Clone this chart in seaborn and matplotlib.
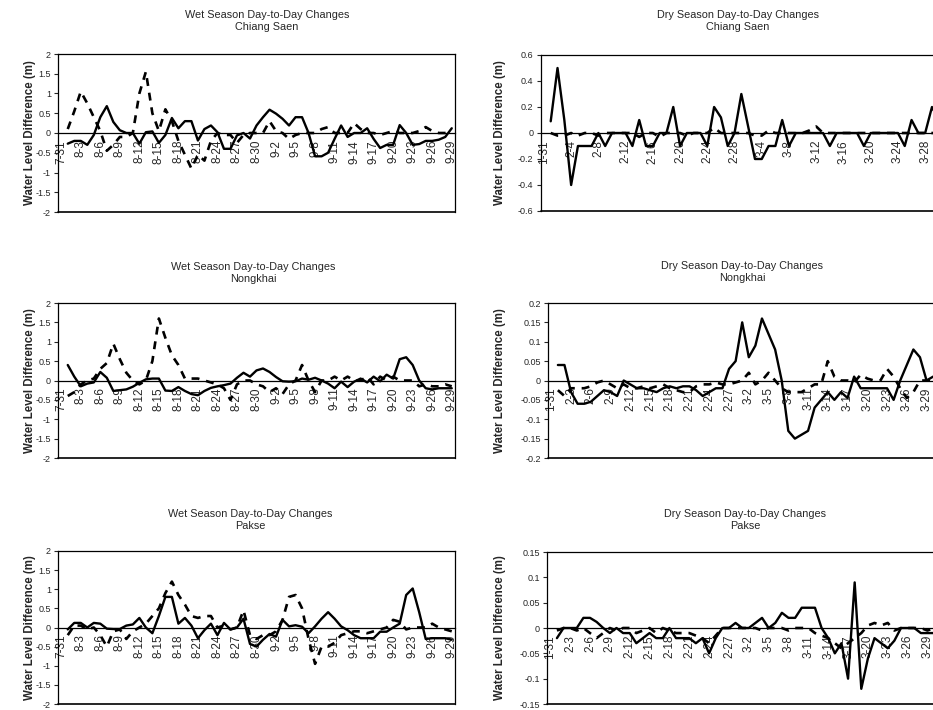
import numpy as np
import pandas as pd
import matplotlib
matplotlib.use("Agg")
import matplotlib.pyplot as plt
from matplotlib.ticker import FuncFormatter
import seaborn as sns

sns.set_style("white")
plt.rcParams["font.family"] = ["Liberation Sans", "DejaVu Sans"]
plt.rcParams["axes.unicode_minus"] = False

nan = np.nan

# Daily categories; the first day has no previous-day difference
wet_days = pd.date_range("2003-07-31", "2003-09-29", freq="D")
dry_days = pd.date_range("2003-01-31", "2003-03-31", freq="D")
wet_labels = [f"{d.month}-{d.day}" for d in wet_days]
dry_labels = [f"{d.month}-{d.day}" for d in dry_days]

# ---- Chiang Saen -------------------------------------------------------
cs_wet_solid = [nan, -0.27, -0.2, -0.2, -0.3, -0.05, 0.4, 0.68, 0.28, 0.07, 0.0,
                0.0, -0.27, 0.02, 0.04, -0.25, -0.05, 0.38, 0.12, 0.3, 0.3,
                -0.19, 0.1, 0.19, 0.02, -0.4, -0.4, -0.06, 0.0, -0.14, 0.19,
                0.4, 0.59, 0.49, 0.36, 0.19, 0.4, 0.4, 0.0, -0.59, -0.59,
                -0.5, -0.15, 0.19, -0.1, 0.0, 0.0, 0.12, -0.15, -0.38, -0.3,
                -0.3, 0.2, 0.0, -0.3, -0.28, -0.2, -0.2, -0.17, -0.1, 0.12]
cs_wet_dashed = [nan, 0.1, 0.55, 1.05, 0.75, 0.4, 0.05, -0.45, -0.3, -0.1, -0.1,
                 0.0, 1.0, 1.55, 0.5, 0.05, 0.6, 0.3, -0.2, -0.55, -0.9,
                 -0.55, -0.7, -0.2, 0.0, -0.05, -0.05, -0.25, -0.05, 0.0, 0.0,
                 0.0, 0.3, 0.05, 0.0, -0.15, -0.05, 0.0, 0.0, 0.0, 0.1,
                 0.15, 0.0, 0.0, 0.0, 0.25, 0.1, 0.0, 0.0, -0.05, 0.0,
                 0.05, 0.0, 0.0, 0.0, 0.05, 0.15, 0.05, 0.0, 0.0, 0.0]
cs_dry_solid = [nan, 0.09, 0.5, 0.1, -0.4, -0.1, -0.1, -0.1, 0.0, -0.1,
                0.0, 0.0, 0.0, -0.1, 0.1, -0.1, -0.1, 0.0, 0.0, 0.2,
                -0.1, 0.0, 0.0, 0.0, -0.1, 0.2, 0.12, -0.1, 0.0, 0.3,
                0.05, -0.2, -0.2, -0.1, -0.1, 0.1, -0.1, 0.0, 0.0, 0.0,
                0.0, 0.0, -0.1, 0.0, 0.0, 0.0, 0.0, -0.1, 0.0, 0.0,
                0.0, 0.0, 0.0, -0.1, 0.1, 0.0, 0.0, 0.2, 0.1, 0.0]
cs_dry_dashed = [nan, 0.0, -0.02, -0.02, 0.0, -0.02, 0.0, 0.0, -0.02, 0.0,
                 0.0, 0.0, 0.0, 0.0, -0.03, 0.0, 0.0, -0.03, 0.0, 0.0,
                 0.0, -0.02, 0.0, 0.0, 0.0, 0.04, 0.0, 0.0, 0.0, 0.0,
                 0.0, -0.02, -0.02, 0.02, 0.0, 0.0, 0.0, 0.0, 0.0, 0.02,
                 0.05, 0.0, 0.0, 0.0, 0.0, 0.0, 0.0, 0.0, 0.0, 0.0,
                 0.0, 0.0, 0.0, 0.0, 0.0, 0.0, 0.0, 0.0, 0.0, 0.0]

# ---- Nongkhai ----------------------------------------------------------
nk_wet_solid = [nan, 0.4, 0.1, -0.15, -0.08, -0.05, 0.22, 0.07, -0.27, -0.25, -0.23,
                -0.16, -0.06, 0.03, 0.05, 0.05, -0.26, -0.27, -0.17, -0.27, -0.35,
                -0.38, -0.27, -0.19, -0.15, -0.12, -0.08, 0.07, 0.2, 0.1, 0.26,
                0.31, 0.22, 0.09, -0.02, -0.03, -0.02, 0.05, 0.02, 0.07, 0.0,
                -0.08, -0.2, -0.03, -0.17, -0.03, 0.05, -0.05, 0.1, -0.02, 0.15,
                0.05, 0.55, 0.6, 0.4, 0.0, -0.2, -0.23, -0.2, -0.2, -0.2]
nk_wet_dashed = [nan, -0.4, -0.3, -0.1, 0.0, 0.05, 0.3, 0.45, 0.95, 0.55, 0.2,
                 0.0, -0.1, 0.0, 0.5, 1.6, 1.1, 0.65, 0.4, 0.05, 0.05,
                 0.05, 0.0, -0.05, -0.1, -0.2, -0.5, -0.1, 0.0, 0.0, -0.1,
                 -0.15, -0.3, -0.2, -0.35, -0.1, 0.0, 0.4, 0.0, -0.3, 0.0,
                 0.0, 0.1, 0.0, 0.1, 0.0, 0.0, 0.1, -0.1, 0.1, 0.0,
                 0.1, 0.0, 0.0, 0.0, -0.15, -0.1, -0.15, -0.15, -0.1, -0.15]
nk_dry_solid = [nan, 0.04, 0.04, -0.03, -0.06, -0.06, -0.055, -0.04, -0.025, -0.03,
                -0.04, 0.0, -0.01, -0.02, -0.02, -0.025, -0.03, -0.02, -0.015, -0.02,
                -0.015, -0.015, -0.025, -0.04, -0.03, -0.02, -0.02, 0.03, 0.05, 0.15,
                0.06, 0.09, 0.16, 0.12, 0.08, 0.0, -0.13, -0.15, -0.14, -0.13,
                -0.07, -0.05, -0.03, -0.05, -0.03, -0.045, 0.01, -0.02, -0.02, -0.02,
                -0.02, -0.02, -0.05, 0.0, 0.04, 0.08, 0.06, 0.0, 0.01, 0.0]
nk_dry_dashed = [nan, -0.025, -0.04, -0.02, -0.02, -0.02, -0.015, -0.005, 0.0, -0.01,
                 -0.02, -0.01, -0.02, -0.02, -0.015, -0.02, -0.015, -0.01, -0.02, -0.025,
                 -0.03, -0.03, -0.015, -0.01, -0.01, -0.005, -0.01, -0.01, -0.005, 0.0,
                 0.02, -0.01, 0.0, 0.02, 0.0, -0.02, -0.03, -0.03, -0.03, -0.02,
                 -0.01, -0.01, 0.05, 0.01, 0.0, 0.0, -0.005, 0.015, 0.005, 0.0,
                 0.0, 0.03, 0.01, -0.02, -0.045, -0.03, 0.0, 0.0, 0.0, 0.0]

# ---- Pakse -------------------------------------------------------------
pk_wet_solid = [nan, -0.05, 0.12, 0.12, 0.0, 0.12, 0.1, -0.03, -0.04, -0.04, 0.05,
                0.08, 0.25, 0.0, -0.15, 0.3, 0.8, 0.8, 0.1, 0.25, 0.05,
                -0.28, -0.07, 0.1, -0.2, 0.12, -0.05, 0.0, 0.23, -0.43, -0.5,
                -0.32, -0.17, -0.24, 0.2, 0.03, 0.06, 0.02, -0.15, 0.03, 0.23,
                0.4, 0.23, 0.03, -0.07, -0.2, -0.28, -0.28, -0.28, -0.11, -0.11,
                0.0, 0.1, 0.85, 1.02, 0.4, -0.3, -0.28, -0.28, -0.28, -0.32]
pk_wet_dashed = [nan, -0.2, 0.05, 0.05, -0.05, 0.0, -0.2, -0.5, -0.1, -0.05, -0.3,
                 -0.1, 0.0, 0.1, 0.3, 0.5, 0.9, 1.2, 0.85, 0.6, 0.3,
                 0.25, 0.3, 0.3, 0.0, 0.05, -0.05, 0.0, 0.45, -0.2, -0.3,
                 -0.2, -0.2, -0.1, 0.2, 0.8, 0.85, 0.5, -0.3, -0.95, -0.5,
                 -0.5, -0.4, -0.2, -0.15, -0.1, -0.1, -0.15, -0.1, -0.05, 0.0,
                 0.2, 0.15, -0.05, 0.0, 0.0, 0.0, 0.1, 0.0, -0.05, -0.1]
pk_dry_solid = [nan, -0.02, 0.0, 0.0, 0.0, 0.02, 0.02, 0.012, 0.0, -0.01,
                0.0, -0.01, -0.01, -0.03, -0.02, -0.01, -0.02, -0.02, 0.0, -0.02,
                -0.02, -0.02, -0.03, -0.02, -0.05, -0.02, 0.0, 0.0, 0.01, 0.0,
                0.0, 0.01, 0.02, 0.0, 0.01, 0.03, 0.02, 0.02, 0.04, 0.04,
                0.04, 0.0, -0.02, -0.05, -0.03, -0.1, 0.09, -0.12, -0.06, -0.02,
                -0.03, -0.04, -0.025, 0.0, 0.0, 0.0, -0.01, -0.01, -0.01, -0.01]
pk_dry_dashed = [nan, -0.005, 0.0, 0.0, -0.005, 0.0, -0.01, -0.02, -0.01, 0.0,
                 -0.005, 0.0, 0.0, -0.01, -0.005, 0.0, -0.01, 0.0, -0.005, -0.01,
                 -0.01, -0.01, -0.015, -0.02, -0.03, -0.015, 0.0, 0.0, 0.0, 0.0,
                 0.0, 0.0, -0.005, 0.0, 0.0, 0.0, -0.005, 0.0, 0.0, 0.0,
                 -0.01, -0.015, -0.02, -0.03, -0.04, -0.03, -0.02, -0.01, 0.005, 0.01,
                 0.005, 0.01, -0.005, 0.0, 0.0, 0.0, 0.0, -0.005, 0.0, 0.0]

W, H = 933, 710
fig = plt.figure(figsize=(W / 100, H / 100), dpi=100)
fig.patch.set_facecolor("white")


def axes_px(left, right, top, bottom):
    return fig.add_axes([left / W, 1 - bottom / H, (right - left) / W, (bottom - top) / H])


def yfmt(v, _pos):
    return "0" if abs(v) < 1e-9 else f"{v:g}"


panels = [
    # solid, dashed, labels, season, station, ymax, ystep, label_every, box px, title centre px
    (cs_wet_solid, cs_wet_dashed, wet_labels, "Wet", "Chiang Saen", 2.0, 0.5, 3, (58, 455, 54, 212), (267, 21)),
    (cs_dry_solid, cs_dry_dashed, dry_labels, "Dry", "Chiang Saen", 0.6, 0.2, 4, (540.5, 949, 55, 211), (738, 21)),
    (nk_wet_solid, nk_wet_dashed, wet_labels, "Wet", "Nongkhai", 2.0, 0.5, 3, (58, 455, 303, 458), (253, 273)),
    (nk_dry_solid, nk_dry_dashed, dry_labels, "Dry", "Nongkhai", 0.2, 0.05, 3, (548, 943, 303, 458), (742, 272)),
    (pk_wet_solid, pk_wet_dashed, wet_labels, "Wet", "Pakse", 2.0, 0.5, 3, (58, 455, 551, 704), (250, 520)),
    (pk_dry_solid, pk_dry_dashed, dry_labels, "Dry", "Pakse", 0.15, 0.05, 3, (547, 944, 552, 704), (745, 520)),
]

for solid, dashed, labels, season, station, ymax, ystep, every, box, tpos in panels:
    left, right, top, bottom = box
    ax = axes_px(left, right, top, bottom)
    n = len(labels)
    df = pd.DataFrame({"day": np.arange(n), "solid": solid, "dashed": dashed})

    sns.lineplot(data=df, x="day", y="dashed", ax=ax, color="black", linewidth=1.9,
                 linestyle=(0, (3.0, 2.6)), errorbar=None, zorder=3)
    sns.lineplot(data=df, x="day", y="solid", ax=ax, color="black", linewidth=1.7,
                 errorbar=None, zorder=4)

    ax.set_xlim(-0.5, n - 0.5)
    ax.set_ylim(-ymax, ymax)
    ax.set_axisbelow(True)

    # category axis crosses at zero
    for s in ax.spines.values():
        s.set_color("black")
        s.set_linewidth(0.9)
    ax.spines["bottom"].set_position(("data", 0))
    ax.spines["bottom"].set_zorder(2)
    ax.axhline(-ymax, color="black", lw=1.2, clip_on=False, zorder=2)

    major = np.arange(0, n, every)
    ax.set_xticks(major)
    ax.set_xticklabels([labels[i] for i in major], rotation=90)
    ax.set_xticks(np.arange(n + 1) - 0.5, minor=True)
    ax.tick_params(axis="x", which="major", length=0, pad=5, labelsize=8.5)
    ax.tick_params(axis="x", which="minor", direction="inout", length=5, width=0.8,
                   color="black")

    yt = np.round(np.arange(-ymax, ymax + ystep / 2, ystep), 3)
    ax.set_yticks(yt)
    ax.yaxis.set_major_formatter(FuncFormatter(yfmt))
    ax.tick_params(axis="y", direction="out", length=3, width=0.8, pad=2, labelsize=6.5,
                   left=True)

    ax.set_xlabel("")
    ax.set_ylabel("Water Level Difference (m)", fontsize=8.3, fontweight="bold")
    ax.yaxis.set_label_coords(((36 if left < 300 else 506) - left) / (right - left), 0.5)

    fig.text(tpos[0] / W, 1 - tpos[1] / H,
             f"{season} Season Day-to-Day Changes\n{station}",
             ha="center", va="center", fontsize=7.8, linespacing=1.35)

fig.savefig("out.png", dpi=100, facecolor="white")
